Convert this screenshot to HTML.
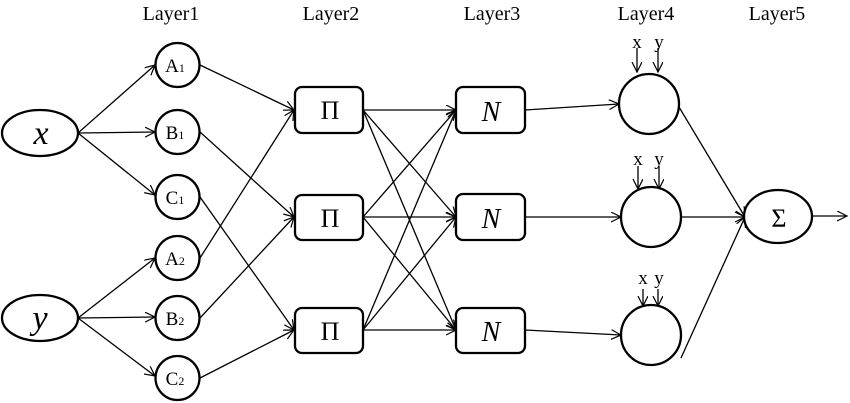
<!DOCTYPE html>
<html><head><meta charset="utf-8"><style>
html,body{margin:0;padding:0;background:#fff}
svg{display:block}
text{font-family:"Liberation Serif",serif;fill:#000}
</style></head><body>
<svg width="850" height="403" viewBox="0 0 850 403" xmlns="http://www.w3.org/2000/svg">
<defs>
<marker id="a" markerWidth="12" markerHeight="12" refX="10" refY="5" orient="auto" markerUnits="userSpaceOnUse">
<polyline points="0,0 10,5 0,10" fill="none" stroke="#000" stroke-width="1.2"/>
</marker>
</defs>
<g font-size="20" text-anchor="middle">
<text x="171" y="20">Layer1</text>
<text x="331" y="20">Layer2</text>
<text x="492" y="20">Layer3</text>
<text x="646" y="20">Layer4</text>
<text x="777" y="20">Layer5</text>
</g>
<g stroke="#000" stroke-width="1.3" fill="none" marker-end="url(#a)">
<line x1="78" y1="133" x2="155" y2="65"/>
<line x1="78" y1="133" x2="155" y2="132"/>
<line x1="78" y1="133" x2="155" y2="195"/>
<line x1="78" y1="318" x2="155" y2="258"/>
<line x1="78" y1="318" x2="155" y2="317"/>
<line x1="78" y1="318" x2="155" y2="376"/>
<line x1="200" y1="65" x2="294" y2="110"/>
<line x1="200" y1="132" x2="294" y2="217"/>
<line x1="200" y1="197" x2="294" y2="330"/>
<line x1="200" y1="258" x2="294" y2="110"/>
<line x1="200" y1="318" x2="294" y2="217"/>
<line x1="200" y1="378" x2="294" y2="330"/>
<line x1="363" y1="110" x2="456" y2="110"/>
<line x1="363" y1="110" x2="456" y2="217"/>
<line x1="363" y1="110" x2="456" y2="330"/>
<line x1="363" y1="217" x2="456" y2="110"/>
<line x1="363" y1="217" x2="456" y2="217"/>
<line x1="363" y1="217" x2="456" y2="330"/>
<line x1="363" y1="330" x2="456" y2="110"/>
<line x1="363" y1="330" x2="456" y2="217"/>
<line x1="363" y1="330" x2="456" y2="330"/>
<line x1="525" y1="110" x2="619" y2="104"/>
<line x1="525" y1="217" x2="621" y2="217"/>
<line x1="525" y1="330" x2="621" y2="335"/>
<line x1="679" y1="107" x2="745" y2="217"/>
<line x1="681" y1="217" x2="745" y2="217"/>
<line x1="681" y1="358" x2="745" y2="217"/>
<line x1="812" y1="216" x2="847" y2="216"/>
<line x1="637" y1="48" x2="637" y2="72"/>
<line x1="658" y1="48" x2="658" y2="72"/>
<line x1="638" y1="166" x2="638" y2="189"/>
<line x1="659" y1="166" x2="659" y2="189"/>
<line x1="643" y1="289" x2="643" y2="306"/>
<line x1="658" y1="289" x2="658" y2="306"/>
</g>
<g stroke="#000" stroke-width="2.3" fill="#fff">
<ellipse cx="40" cy="133" rx="38" ry="23"/>
<ellipse cx="40" cy="318" rx="38" ry="23"/>
<circle cx="177.5" cy="65" r="22"/>
<circle cx="177.5" cy="132" r="22"/>
<circle cx="177.5" cy="197" r="22"/>
<circle cx="177.5" cy="258" r="22"/>
<circle cx="177.5" cy="318" r="22"/>
<circle cx="177.5" cy="378" r="22"/>
<rect x="295" y="87" width="68" height="46" rx="7"/>
<rect x="295" y="195" width="68" height="45" rx="7"/>
<rect x="295" y="308" width="68" height="45" rx="7"/>
<rect x="456" y="87" width="69" height="46" rx="7"/>
<rect x="456" y="194" width="69" height="46" rx="7"/>
<rect x="456" y="308" width="69" height="45" rx="7"/>
<circle cx="649" cy="104" r="30"/>
<circle cx="651" cy="217" r="30"/>
<circle cx="651" cy="335" r="30"/>
<ellipse cx="778" cy="216.5" rx="34" ry="26.5"/>
</g>
<g text-anchor="middle">
<text x="41" y="144" font-size="34" font-style="italic">x</text>
<text x="40" y="329" font-size="34" font-style="italic">y</text>
<g font-size="19">
<text x="175" y="72">A<tspan font-size="12">1</tspan></text>
<text x="175" y="139">B<tspan font-size="12">1</tspan></text>
<text x="175" y="204">C<tspan font-size="12">1</tspan></text>
<text x="175" y="265">A<tspan font-size="12">2</tspan></text>
<text x="175" y="325">B<tspan font-size="12">2</tspan></text>
<text x="175" y="385">C<tspan font-size="12">2</tspan></text>
</g>
<g font-size="26">
<text x="330" y="119">Π</text>
<text x="330" y="227">Π</text>
<text x="330" y="340">Π</text>
</g>
<g font-size="28" font-style="italic">
<text x="491" y="121">N</text>
<text x="491" y="228">N</text>
<text x="491" y="341">N</text>
</g>
<text x="779" y="227" font-size="26">Σ</text>
<g font-size="19">
<text x="637" y="48">x</text><text x="659" y="48">y</text>
<text x="638" y="165">x</text><text x="659" y="165">y</text>
<text x="643" y="284">x</text><text x="659" y="284">y</text>
</g>
</g>
</svg>
</body></html>
